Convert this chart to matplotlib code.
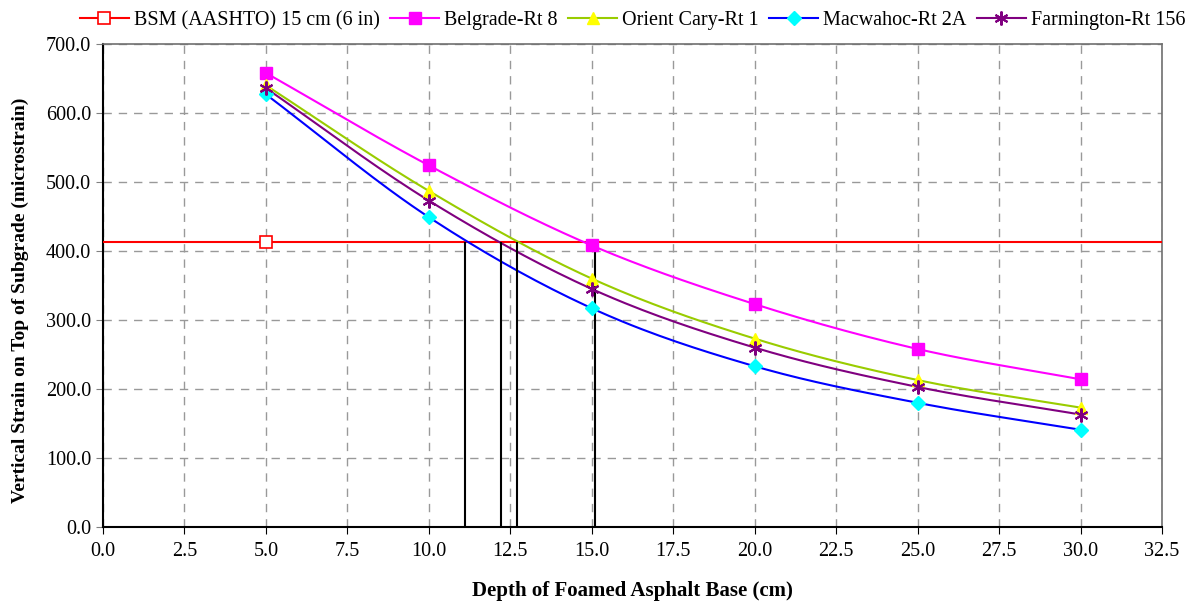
import numpy as np
import matplotlib
matplotlib.use('Agg')
import matplotlib.pyplot as plt
from matplotlib.ticker import FormatStrFormatter, MultipleLocator

plt.rcParams['font.family'] = ['Liberation Serif', 'DejaVu Serif']

# data
depth = [5, 10, 15, 20, 25, 30]
belgrade = [658, 524, 408, 323, 258, 214]
orient = [640, 487, 360, 273, 213, 173]
macwahoc = [627, 449, 317, 233, 180, 141]
farmington = [636, 473, 345, 260, 203, 163]
bsm_depth = [5]
bsm_strain = [413]
cross_depths = [11.1, 12.2, 12.7, 15.1]


def smooth(x, y, n=30):
    # Catmull-Rom style curve through the points (like Excel smoothed lines)
    x = np.asarray(x, float)
    y = np.asarray(y, float)
    px = np.concatenate([[2 * x[0] - x[1]], x, [2 * x[-1] - x[-2]]])
    py = np.concatenate([[2 * y[0] - y[1]], y, [2 * y[-1] - y[-2]]])
    xs, ys = [], []
    t = np.linspace(0, 1, n)
    for i in range(1, len(px) - 2):
        for p, out in ((px, xs), (py, ys)):
            p0, p1, p2, p3 = p[i - 1], p[i], p[i + 1], p[i + 2]
            c1 = p1 + (p2 - p0) / 6
            c2 = p2 - (p3 - p1) / 6
            out.extend((1 - t) ** 3 * p1 + 3 * (1 - t) ** 2 * t * c1
                       + 3 * (1 - t) * t ** 2 * c2 + t ** 3 * p2)
    return xs, ys


fig = plt.figure(figsize=(11.96, 6.02), dpi=100)
ax = fig.add_axes([0.0861, 0.1245, 0.8855, 0.8025])

series = [
    ('Belgrade-Rt 8', belgrade, '#ff00ff', '#ff00ff', 's', 8),
    ('Orient Cary-Rt 1', orient, '#99cc00', '#ffff00', '^', 9),
    ('Macwahoc-Rt 2A', macwahoc, '#0000ff', '#00ffff', 'D', 7),
    ('Farmington-Rt 156', farmington, '#800080', '#800080', (6, 2, 0), 10),
]

ax.axhline(bsm_strain[0], color='#ff0000', lw=1.5, zorder=3)
ax.plot(bsm_depth, bsm_strain, ls='none', marker='s', ms=8, mfc='white',
        mec='#ff0000', mew=1.2, zorder=4)
handles = [ax.plot([], [], color='#ff0000', lw=1.5, marker='s', ms=8,
                   mfc='white', mec='#ff0000', mew=1.2)[0]]

for name, vals, lc, mc, mk, ms in series:
    sx, sy = smooth(depth, vals)
    ax.plot(sx, sy, color=lc, lw=1.5, zorder=3)
    if isinstance(mk, tuple):
        ax.plot(depth, vals, ls='none', marker=mk, ms=ms, mec=mc, mew=1.5, zorder=4)
        h = ax.plot([], [], color=lc, lw=1.5, marker=mk, ms=ms, mec=mc, mew=1.5)[0]
    else:
        ax.plot(depth, vals, ls='none', marker=mk, ms=ms, mfc=mc, mec=mc, zorder=4)
        h = ax.plot([], [], color=lc, lw=1.5, marker=mk, ms=ms, mfc=mc, mec=mc)[0]
    handles.append(h)

ax.vlines(cross_depths, 0, bsm_strain[0], colors='black', lw=1.5, zorder=3)

ax.set_xlim(0, 32.5)
ax.set_ylim(0, 700)
ax.xaxis.set_major_locator(MultipleLocator(2.5))
ax.yaxis.set_major_locator(MultipleLocator(100))
ax.xaxis.set_major_formatter(FormatStrFormatter('%.1f'))
ax.yaxis.set_major_formatter(FormatStrFormatter('%.1f'))
ax.grid(True, color='#999999', ls=(0, (6, 5)), lw=1)
ax.set_axisbelow(True)
ax.tick_params(axis='both', labelsize=14.5, direction='out', length=5)
ax.tick_params(axis='y', color='#808080')
ax.tick_params(axis='x', pad=6)

for s in ('top', 'right'):
    ax.spines[s].set_color('#707070')
    ax.spines[s].set_linewidth(1.2)
for s in ('left', 'bottom'):
    ax.spines[s].set_color('black')
    ax.spines[s].set_linewidth(1.5)

ax.set_xlabel('Depth of Foamed Asphalt Base (cm)', fontsize=15,
              fontweight='bold', labelpad=14)
ax.set_ylabel('Vertical Strain on Top of Subgrade (microstrain)', fontsize=14,
              fontweight='bold')
ax.yaxis.set_label_coords(-0.07, 0.47)

labels = ['BSM (AASHTO) 15 cm (6 in)'] + [s[0] for s in series]
fig.legend(handles, labels, loc='upper center', bbox_to_anchor=(0.529, 1.012),
           ncol=5, frameon=False, fontsize=14.5, handlelength=2.45,
           columnspacing=0.5, handletextpad=0.25)

fig.savefig('out.png', dpi=100)
